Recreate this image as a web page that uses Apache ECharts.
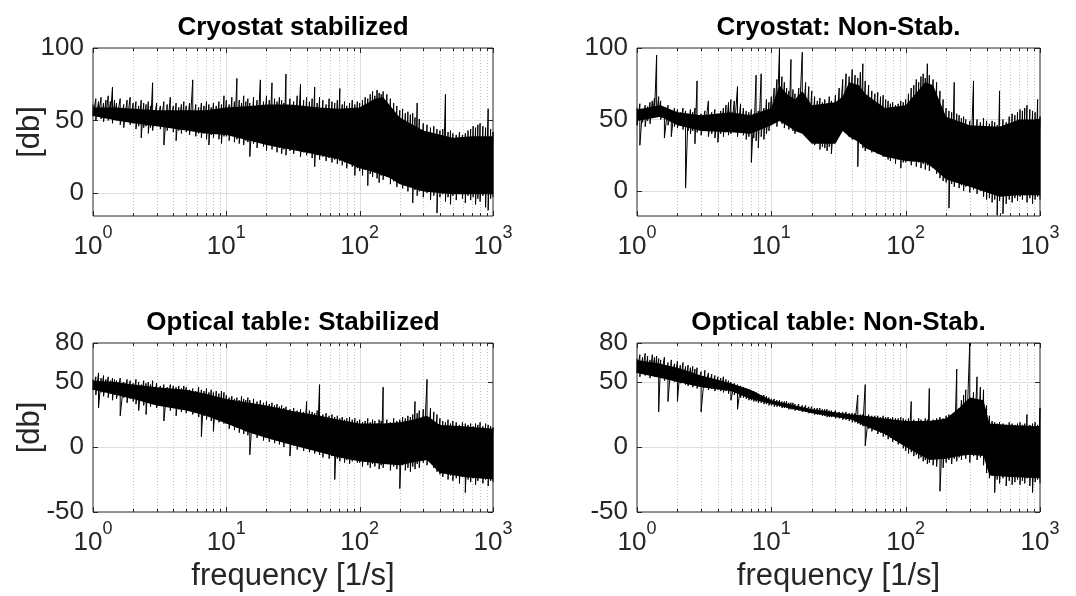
<!DOCTYPE html>
<html><head><meta charset="utf-8">
<script src="https://cdn.jsdelivr.net/npm/echarts@6/dist/echarts.min.js"></script>
<style>html,body{margin:0;padding:0;background:#fff}#c{width:1076px;height:596px}</style>
</head><body><div id="c"></div>
<script>
// ---------- data ----------
const freq = [
  1,1.05,1.1,1.15,1.2,1.25,1.3,1.35,1.4,1.45, 1.5,1.6,1.7,1.8,1.9,2,2.1,2.2,2.3,2.4,
  2.5,2.6,2.7,2.8,3,3.2,3.4,3.6,3.8,4, 4.2,4.4,4.6,4.8,5,5.3,5.6,5.9,6.2,6.5,
  6.8,7.1,7.4,7.7,8,8.4,8.8,9.2,9.6,
  10,10.5,11,11.5,12,12.5,13,13.5,14,14.5, 15,16,17,18,19,20,21,22,23,24,
  25,26,27,28,30,32,34,36,38,40, 42,44,46,48,50,53,56,59,62,65,
  68,71,74,77,80,84,88,92,96,
  100,105,110,115,120,125,130,135,140,145, 150,160,170,180,190,200,210,220,230,240,
  250,260,270,280,300,320,340,360,380,400, 420,440,460,480,500,530,560,590,620,650,
  680,710,740,770,800,840,880,920,960,
  1000];

const titles = ['Cryostat stabilized','Cryostat: Non-Stab.','Optical table: Stabilized','Optical table: Non-Stab.'];
const yAxisName = '[db]';
const xAxisName = 'frequency [1/s]';
const xTickExponents = ['0','1','2','3'];
const xTickValues = [1,10,100,1000];
const xMinorValues = [2,3,4,5,6,7,8,9,20,30,40,50,60,70,80,90,200,300,400,500,600,700,800,900];
const yTicksTop = [0,50,100];
const yTicksBottom = [-50,0,50,80];
const yRangeTopLeft = [-16,100];
const yRangeTopRight = [-17.5,100];
const yRangeBottom = [-50,80];

// ---- Cryostat stabilized ----
const cryoStabHi = [
  61,65,63,66,62,64,67,63,73,64, 62,65,61,64,66,62,63,60,64,62,
  61,63,60,76,62,60,63,61,66,60, 62,59,61,63,60,62,78,61,59,62,
  60,63,61,59,62,60,63,61,67,
  64,61,66,63,79,64,62,67,63,65, 62,66,64,78,63,67,64,76,65,63,
  66,64,62,82,65,63,67,75,64,66, 63,65,73,62,66,64,61,65,63,62,
  64,72,61,63,60,62,64,61,63,
  62,64,66,65,68,70,67,71,69,68, 70,68,65,62,60,57,58,55,56,54,
  55,52,62,51,48,47,45,46,44,43, 44,68,42,43,41,40,42,40,41,43,
  44,46,45,47,48,46,45,58,44,
  42];
const cryoStabLo = [
  53,50,54,51,49,53,50,52,48,51, 50,47,45,49,47,48,44,46,38,45,
  46,41,45,43,46,44,33,43,45,42, 36,43,41,44,42,40,43,39,41,38,
  41,37,33,40,38,41,37,34,39,
  39,36,40,35,37,34,38,33,36,35, 25,34,31,35,32,29,33,30,32,28,
  31,27,30,26,29,27,30,25,28,26, 28,24,18,26,23,25,22,24,21,23,
  20,22,19,21,17,20,18,12,17,
  15,12,16,5,13,11,14,10,7,12, 9,11,6,8,4,7,3,5,1,4,
  -7,2,-2,1,-3,0,-5,-2,-14,-3, -1,-6,-3,-8,-2,-5,0,-4,-7,-2,
  -5,-3,-8,-4,-6,-2,-10,-12,-4,
  -3];
const cryoStabCoreF  = [1,1.5,2,3,5,7,10,15,20,30,50,70,100,130,150,170,200,300,500,700,1000];
const cryoStabCoreHi = [59,59,58,57,57,57,59,60,61,61,59,58,59,65,66,60,52,43,38,39,39];
const cryoStabCoreLo = [53,50,48,46,43,41,40,36,33,30,26,23,17,14,12,10,6,1,-1,-1,-1];

// ---- Cryostat: Non-Stab. ----
const cryoNonHi = [
  58,61,57,60,59,62,63,65,95,66, 63,58,60,56,58,57,55,58,56,54,
  57,55,58,77,54,56,63,55,57,54, 56,58,60,62,64,63,73,61,58,56,
  55,57,54,81,56,82,58,64,62,
  66,72,78,100,80,76,72,70,92,71, 68,72,97,76,73,70,66,63,65,62,
  64,61,66,63,67,72,78,82,80,85, 81,79,83,89,77,74,70,68,69,66,
  67,64,63,61,62,60,61,63,62,
  64,68,72,74,78,76,80,82,79,89, 81,78,76,70,64,58,56,55,76,54,
  53,51,52,50,49,77,50,48,51,49, 47,49,48,46,70,50,48,52,54,53,
  55,57,56,58,60,57,56,55,64,
  52];
const cryoNonLo = [
  46,32,48,45,49,47,51,54,52,55, 50,37,46,38,45,44,46,43,2,42,
  40,42,33,41,39,42,38,40,37,34, 40,38,41,39,40,42,38,41,39,36,
  38,20,37,35,30,38,36,40,42,
  46,48,45,49,47,44,46,43,45,42, 40,43,41,38,39,36,32,34,29,31,
  30,28,31,26,34,40,46,42,38,36, 36,17,33,30,28,31,27,29,26,28,
  24,26,22,21,24,19,22,16,20,
  20,22,18,21,17,20,16,19,15,18, 14,16,12,9,7,6,-12,5,3,6,
  2,4,0,3,-1,1,-2,0,-4,-6, -5,-8,-6,-17,-7,-16,-9,-6,-8,-5,
  -7,-4,-6,-3,-8,-5,-9,-6,-4,
  -6];
const cryoNonCoreF  = [1,1.5,2,3,5,7,10,11.5,13,15,17,20,30,34,38,45,50,70,100,140,160,200,300,500,700,1000];
const cryoNonCoreHi = [57,60,55,53,55,53,58,74,68,64,70,60,62,66,76,74,68,58,60,76,74,52,46,45,50,50];
const cryoNonCoreLo = [49,52,46,42,41,40,46,49,46,42,40,33,33,42,38,34,30,24,21,20,16,8,3,-4,-3,-3];

// ---- Optical table: Stabilized ----
const tableStabHi = [
  52,54,57,53,55,52,54,51,53,52, 51,53,50,52,51,49,52,50,48,51,
  49,50,48,51,49,47,48,46,48,47, 46,47,45,47,46,44,45,43,46,44,
  43,45,42,44,42,43,41,43,42,
  40,38,39,37,38,36,39,37,36,38, 36,37,35,36,34,35,33,34,32,33,
  31,32,30,31,29,30,28,29,27,35, 28,27,26,28,48,25,26,24,25,23,
  24,22,23,21,22,23,21,22,20,
  21,19,20,22,19,21,20,18,21,20, 46,21,19,22,20,21,23,22,24,23,
  25,35,26,28,29,52,30,27,25,22, 20,19,21,18,20,19,17,19,18,17,
  18,16,18,17,19,16,18,17,16,
  15];
const tableStabLo = [
  44,40,30,42,39,43,38,41,36,40, 37,24,38,34,37,35,33,28,36,32,
  25,34,31,33,30,32,20,31,28,30, 24,29,27,30,26,28,25,27,23,8,
  24,21,25,20,12,22,19,23,18,
  18,14,17,13,15,11,14,10,12,9, -6,10,7,9,5,8,4,6,3,5,
  2,4,0,3,-7,1,-2,0,-3,-1, -4,-2,-5,-3,-6,-8,-5,-9,-7,-25,
  -9,-11,-8,-12,-10,-13,-11,-9,-12,
  -12,-15,-11,-14,-16,-13,-15,-12,-17,-14, -16,-13,-18,-15,-17,-32,-14,-18,-16,-19,
  -15,-17,-13,-16,-12,-14,-10,-16,-19,-21, -23,-20,-25,-22,-26,-24,-28,-23,-35,-25,
  -27,-24,-29,-26,-23,-28,-25,-30,-26,
  -27];
const tableStabCoreF  = [1,1.5,2,3,5,7,10,15,20,30,50,70,100,150,200,250,320,400,600,1000];
const tableStabCoreHi = [51,50,48,46,44,41,37,34,32,28,24,21,18,18,19,21,24,17,16,14];
const tableStabCoreLo = [44,40,37,32,28,24,18,11,7,2,-4,-8,-11,-13,-14,-12,-10,-20,-23,-25];

// ---- Optical table: Non-Stab. ----
const tableNonHi = [
  68,71,69,72,70,67,71,69,70,68, 67,69,65,67,64,66,63,65,62,63,
  61,62,60,61,58,59,57,56,55,54, 53,54,52,51,50,49,48,47,46,45,
  44,43,43,42,41,40,40,39,38,
  37,37,36,36,35,35,35,34,34,34, 33,33,32,32,31,31,30,30,30,29,
  29,29,28,28,28,27,27,27,26,26, 26,40,25,25,48,25,24,24,24,23,
  24,23,23,22,23,22,22,23,22,
  21,22,35,21,20,22,21,20,22,21, 45,21,22,23,22,24,25,23,26,60,
  30,36,40,44,80,42,54,46,44,32, 24,20,19,18,19,18,17,19,18,17,
  18,19,17,18,25,17,18,19,17,
  30];
const tableNonLo = [
  57,54,58,55,56,53,57,54,56,27, 53,51,35,52,50,35,49,51,48,47,
  49,46,48,45,27,46,44,45,43,44, 43,42,43,41,36,40,29,38,38,37,
  36,36,35,35,34,34,33,33,32,
  32,31,31,31,30,30,30,29,29,29, 28,28,27,27,26,26,25,25,25,24,
  24,23,23,23,22,22,21,21,20,19, 19,18,17,16,1,14,12,13,10,11,
  8,9,6,7,4,5,2,3,-1,
  -3,-5,-4,-7,-6,-9,-8,-11,-10,-13, -12,-14,-15,-34,-16,-12,-10,-13,-9,-11,
  -8,-10,-6,-9,-12,-7,-10,-8,-14,-20, -24,-22,-35,-25,-28,-24,-30,-26,-29,-27,
  -25,-29,-26,-28,-24,-30,-35,-27,-25,
  -28];
const tableNonCoreF  = [1,1.5,2,3,5,7,10,20,40,50,70,100,150,200,250,300,380,420,600,1000];
const tableNonCoreHi = [67,64,61,55,49,44,36,29,25,24,22,20,20,22,30,38,36,18,17,16];
const tableNonCoreLo = [57,53,50,46,43,37,33,26,21,16,10,0,-10,-9,-7,-6,-7,-22,-23,-24];

// ---------- layout / style ----------
const FONT = "'Liberation Sans', Arial, Helvetica, sans-serif";
const AX = '#262626';
const layouts = [
  {left: 93, top: 48, width: 400, height: 168},
  {left: 637, top: 48, width: 403, height: 168},
  {left: 93, top: 343, width: 400, height: 169},
  {left: 637, top: 343, width: 403, height: 169}
];
const panels = [
  {hi: cryoStabHi, lo: cryoStabLo, cF: cryoStabCoreF, cHi: cryoStabCoreHi, cLo: cryoStabCoreLo, yr: yRangeTopLeft, yt: yTicksTop, yName: yAxisName, xName: ''},
  {hi: cryoNonHi, lo: cryoNonLo, cF: cryoNonCoreF, cHi: cryoNonCoreHi, cLo: cryoNonCoreLo, yr: yRangeTopRight, yt: yTicksTop, yName: '', xName: ''},
  {hi: tableStabHi, lo: tableStabLo, cF: tableStabCoreF, cHi: tableStabCoreHi, cLo: tableStabCoreLo, yr: yRangeBottom, yt: yTicksBottom, yName: yAxisName, xName: xAxisName},
  {hi: tableNonHi, lo: tableNonLo, cF: tableNonCoreF, cHi: tableNonCoreHi, cLo: tableNonCoreLo, yr: yRangeBottom, yt: yTicksBottom, yName: '', xName: xAxisName}
];

function px(v) { return Math.round(v) + 0.5; }

function gridRender(yMin, yMax, yTicks) {
  return function (params, api) {
    const ch = [];
    const p0 = api.coord([1, yMax]), p1 = api.coord([1000, yMin]);
    const L = p0[0], T = p0[1], R = p1[0], B = p1[1];
    xMinorValues.forEach(function (v) {
      const x = px(api.coord([v, yMin])[0]);
      ch.push({type: 'line', shape: {x1: x, y1: T, x2: x, y2: B}, style: {stroke: '#c4c4c4', lineWidth: 1, lineDash: [1, 2]}});
      ch.push({type: 'line', shape: {x1: x, y1: B, x2: x, y2: B - 3}, style: {stroke: AX, lineWidth: 1}});
      ch.push({type: 'line', shape: {x1: x, y1: T, x2: x, y2: T + 3}, style: {stroke: AX, lineWidth: 1}});
    });
    xTickValues.forEach(function (v) {
      const x = px(api.coord([v, yMin])[0]);
      if (v !== xTickValues[0] && v !== xTickValues[xTickValues.length - 1]) {
        ch.push({type: 'line', shape: {x1: x, y1: T, x2: x, y2: B}, style: {stroke: '#dedede', lineWidth: 1}});
      }
      ch.push({type: 'line', shape: {x1: x, y1: B, x2: x, y2: B - 5}, style: {stroke: AX, lineWidth: 1}});
      ch.push({type: 'line', shape: {x1: x, y1: T, x2: x, y2: T + 5}, style: {stroke: AX, lineWidth: 1}});
    });
    yTicks.forEach(function (v) {
      const y = px(api.coord([1, v])[1]);
      if (v !== yMin && v !== yMax) {
        ch.push({type: 'line', shape: {x1: L, y1: y, x2: R, y2: y}, style: {stroke: '#dedede', lineWidth: 1}});
      }
      ch.push({type: 'line', shape: {x1: L, y1: y, x2: L + 5, y2: y}, style: {stroke: AX, lineWidth: 1}});
      ch.push({type: 'line', shape: {x1: R, y1: y, x2: R - 5, y2: y}, style: {stroke: AX, lineWidth: 1}});
    });
    return {type: 'group', children: ch};
  };
}

function bandRender(cF, cHi, cLo) {
  return function (params, api) {
    const pts = [];
    for (let i = 0; i < cF.length; i++) pts.push(api.coord([cF[i], cHi[i]]));
    for (let i = cF.length - 1; i >= 0; i--) pts.push(api.coord([cF[i], cLo[i]]));
    return {type: 'polygon', shape: {points: pts}, style: {fill: '#000'}};
  };
}

const grids = [], xAxes = [], yAxes = [], series = [], graphics = [];
panels.forEach(function (p, i) {
  const g = layouts[i];
  grids.push({left: g.left, top: g.top, width: g.width, height: g.height, show: true, borderColor: AX, borderWidth: 1, backgroundColor: '#fff'});
  xAxes.push({
    type: 'log', logBase: 10, min: 1, max: 1000, gridIndex: i,
    axisLine: {show: false}, axisTick: {show: false}, splitLine: {show: false}, minorTick: {show: false},
    name: p.xName, nameLocation: 'middle', nameGap: 49,
    nameTextStyle: {fontSize: 31, color: AX, fontFamily: FONT},
    axisLabel: {
      margin: 8, color: AX,
      formatter: function (v) {
        const e = Math.round(Math.log10(v));
        return '{b|10}{e|' + xTickExponents[e] + '}';
      },
      rich: {
        b: {fontSize: 26, fontFamily: FONT, color: AX, lineHeight: 36, verticalAlign: 'bottom'},
        e: {fontSize: 18, fontFamily: FONT, color: AX, lineHeight: 20, verticalAlign: 'top'}
      }
    }
  });
  yAxes.push({
    type: 'value', min: p.yr[0], max: p.yr[1], gridIndex: i,
    axisLine: {show: false}, axisTick: {show: false}, splitLine: {show: false},
    name: p.yName, nameLocation: 'middle', nameGap: 47, nameMoveOverlap: false,
    nameTextStyle: {fontSize: 31, color: AX, fontFamily: FONT},
    axisLabel: {customValues: p.yt, fontSize: 26, color: AX, fontFamily: FONT, margin: 9}
  });
  series.push({
    type: 'custom', xAxisIndex: i, yAxisIndex: i, z: 1, silent: true,
    data: [[1, 0]], encode: {x: 0, y: 1}, renderItem: gridRender(p.yr[0], p.yr[1], p.yt)
  });
  series.push({
    type: 'custom', xAxisIndex: i, yAxisIndex: i, z: 2, silent: true, clip: true,
    data: [[1, 0]], encode: {x: 0, y: 1}, renderItem: bandRender(p.cF, p.cHi, p.cLo)
  });
  const d = [];
  for (let k = 0; k < freq.length; k++) { d.push([freq[k], p.hi[k]]); d.push([freq[k], p.lo[k]]); }
  series.push({
    type: 'line', xAxisIndex: i, yAxisIndex: i, z: 3, data: d, symbol: 'none', silent: true,
    lineStyle: {color: '#000', width: 1}, clip: true
  });
  graphics.push({
    type: 'text', x: g.left + g.width / 2, y: g.top - 20,
    style: {text: titles[i], fill: '#000', font: 'bold 26px ' + FONT, textAlign: 'center', textVerticalAlign: 'middle'}
  });
});

const chart = echarts.init(document.getElementById('c'), null, {renderer: 'canvas'});
chart.setOption({
  animation: false,
  backgroundColor: '#fff',
  grid: grids, xAxis: xAxes, yAxis: yAxes, series: series,
  graphic: graphics
});
</script></body></html>
